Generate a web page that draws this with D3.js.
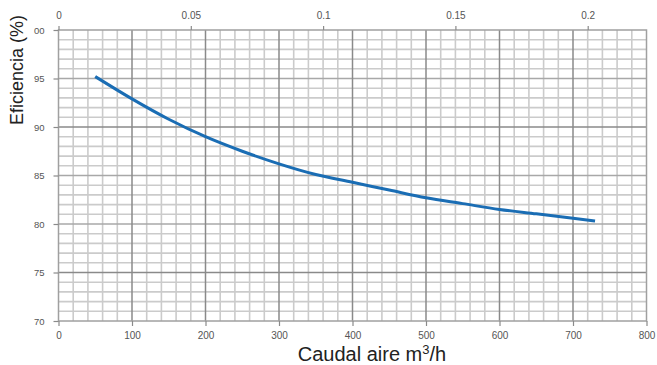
<!DOCTYPE html>
<html>
<head>
<meta charset="utf-8">
<script src="https://cdn.jsdelivr.net/npm/d3@7"></script>
<style>
  html, body { margin: 0; padding: 0; background: #fff; }
  svg { display: block; }
</style>
</head>
<body>
<svg id="chart" width="657" height="365"></svg>
<script>
// ---- data ----
const caudal = [50, 100, 150, 200, 250, 300, 350, 400, 450, 500, 550, 600, 650, 700, 730]; // m3/h
const eficiencia = [95.2, 92.9, 90.8, 89.0, 87.5, 86.2, 85.1, 84.3, 83.5, 82.7, 82.1, 81.5, 81.05, 80.6, 80.3]; // %
const xTicks = [0, 100, 200, 300, 400, 500, 600, 700, 800];
const xTickLabels = ["0", "100", "200", "300", "400", "500", "600", "700", "800"];
const topTicks = [0, 0.05, 0.1, 0.15, 0.2]; // m3/s
const topTickLabels = ["0", "0.05", "0.1", "0.15", "0.2"];
const yTicks = [70, 75, 80, 85, 90, 95, 100];
const yTickLabels = ["70", "75", "80", "85", "90", "95", "00"];
const xTitle = "Caudal aire m";
const xTitleSup = "3";
const xTitleEnd = "/h";
const yTitle = "Eficiencia (%)";

// ---- layout ----
const svg = d3.select("#chart");
const L = 58.5, R = 646.5, T = 30, B = 321;
const x = d3.scaleLinear().domain([0, 800]).range([L, R]);
const xTop = d3.scaleLinear().domain([0, 800 / 3600]).range([L, R]);
const y = d3.scaleLinear().domain([70, 100]).range([B, T]);

const tickFont = "'Liberation Sans', Arial, sans-serif";
const titleFont = "'Liberation Sans', Arial, sans-serif";

// ---- grid ----
const grid = svg.append("g");
const vMinor = d3.range(0, 801, 20).filter(v => v % 100 !== 0);
grid.selectAll(".vmin").data(vMinor).join("line")
  .attr("x1", d => x(d)).attr("x2", d => x(d)).attr("y1", T).attr("y2", B)
  .attr("stroke", "#cbcbcb").attr("stroke-width", 1.6);
const hMinor = d3.range(70, 101, 1).filter(v => v % 5 !== 0);
grid.selectAll(".hmin").data(hMinor).join("line")
  .attr("x1", L).attr("x2", R).attr("y1", d => y(d)).attr("y2", d => y(d))
  .attr("stroke", "#cbcbcb").attr("stroke-width", 1.6);
const hMid = [80, 85, 95];
grid.selectAll(".hmid").data(hMid).join("line")
  .attr("x1", L).attr("x2", R).attr("y1", d => y(d)).attr("y2", d => y(d))
  .attr("stroke", "#a8a8a8").attr("stroke-width", 1.5);
const hMaj = [75, 90];
grid.selectAll(".hmaj").data(hMaj).join("line")
  .attr("x1", L).attr("x2", R).attr("y1", d => y(d)).attr("y2", d => y(d))
  .attr("stroke", "#8a8a8a").attr("stroke-width", 1.5);
const vMaj = [100, 200, 300, 400, 500, 600, 700];
grid.selectAll(".vmaj").data(vMaj).join("line")
  .attr("x1", d => x(d)).attr("x2", d => x(d)).attr("y1", T).attr("y2", B)
  .attr("stroke", "#8a8a8a").attr("stroke-width", 1.5);
svg.append("rect").attr("x", L).attr("y", T).attr("width", R - L).attr("height", B - T)
  .attr("fill", "none").attr("stroke", "#a0a0a0").attr("stroke-width", 1.5);

// ---- axes ----
function styleAxis(g) {
  g.select(".domain").remove();
  g.selectAll(".tick line").attr("stroke", "#8a8a8a").attr("stroke-width", 1.2);
  g.selectAll(".tick text").attr("fill", "#555").attr("font-family", tickFont);
}
const xAxis = d3.axisBottom(x).tickValues(xTicks).tickSize(5).tickPadding(6)
  .tickFormat((d, i) => xTickLabels[i]);
svg.append("g").attr("transform", `translate(0,${B})`).call(xAxis).call(styleAxis)
  .selectAll(".tick text").attr("font-size", 10);

const topAxis = d3.axisTop(xTop).tickValues(topTicks).tickSize(4).tickPadding(7)
  .tickFormat((d, i) => topTickLabels[i]);
svg.append("g").attr("transform", `translate(0,${T})`).call(topAxis).call(styleAxis)
  .selectAll(".tick text").attr("font-size", 10);

const yAxis = d3.axisLeft(y).tickValues(yTicks).tickSize(5).tickPadding(9)
  .tickFormat((d, i) => yTickLabels[i]);
svg.append("g").attr("transform", `translate(${L},0)`).call(yAxis).call(styleAxis)
  .selectAll(".tick text").attr("font-size", 9.5);

// ---- titles ----
const xt = svg.append("text").attr("x", 372).attr("y", 361)
  .attr("text-anchor", "middle").attr("font-family", titleFont)
  .attr("font-size", 20).attr("fill", "#222");
xt.append("tspan").text(xTitle);
xt.append("tspan").attr("dy", -7).attr("font-size", 13).text(xTitleSup);
xt.append("tspan").attr("dy", 7).text(xTitleEnd);

svg.append("text")
  .attr("transform", "translate(23,70) rotate(-90)")
  .attr("text-anchor", "middle").attr("font-family", titleFont)
  .attr("font-size", 18).attr("fill", "#222").text(yTitle);

// ---- curve ----
const pts = caudal.map((c, i) => [c, eficiencia[i]]);
const line = d3.line().x(d => x(d[0])).y(d => y(d[1])).curve(d3.curveMonotoneX);
svg.append("path").datum(pts).attr("d", line)
  .attr("fill", "none").attr("stroke", "#1a6db4").attr("stroke-width", 3);
</script>
</body>
</html>
